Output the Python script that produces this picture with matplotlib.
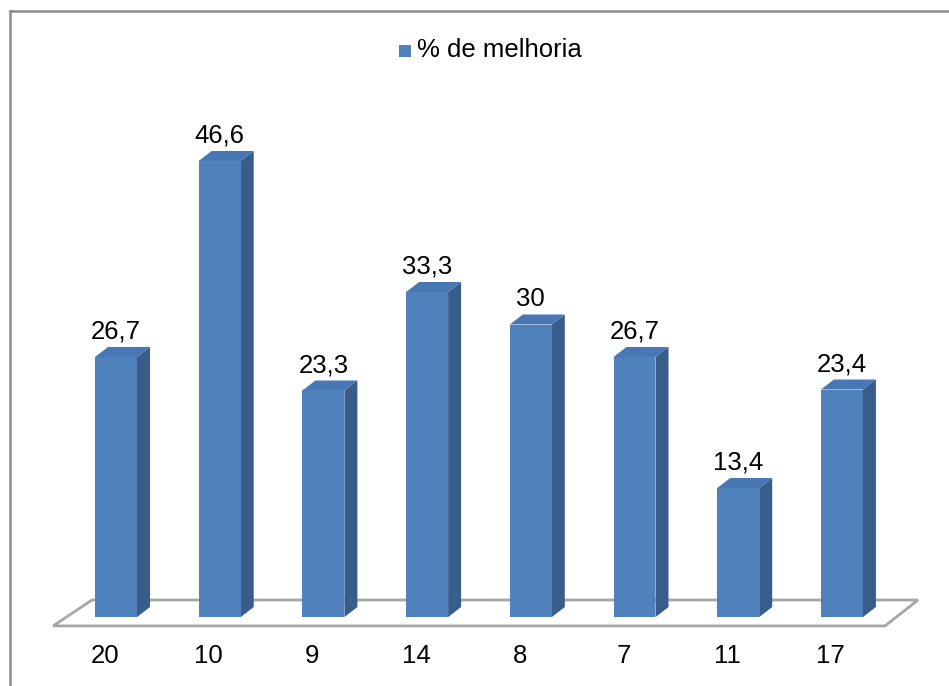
import matplotlib
matplotlib.use("Agg")
import matplotlib.pyplot as plt
from matplotlib.patches import Polygon, Rectangle
from matplotlib.lines import Line2D

categories = ["20", "10", "9", "14", "8", "7", "11", "17"]
values = [26.7, 46.6, 23.3, 33.3, 30, 26.7, 13.4, 23.4]
value_labels = ["26,7", "46,6", "23,3", "33,3", "30", "26,7", "13,4", "23,4"]
series_name = "% de melhoria"

front = "#4F81BD"
side = "#385D8A"
top = "#4878B4"

plt.rcParams["font.family"] = ["Liberation Sans", "DejaVu Sans"]

fig = plt.figure(figsize=(9.49, 6.86), dpi=100)
ax = fig.add_axes([0, 0, 1, 1])
# map: x pixel = 116 + 103.7 * i ; y pixel from top = 620 - 9.85 * v
ax.set_xlim(-116 / 103.7, (949 - 116) / 103.7)
ax.set_ylim(-66 / 9.85, 620 / 9.85)
ax.axis("off")

bw = 0.405          # front face width
dx = 13 / 103.7     # depth offset in x
dy = 10 / 9.85      # depth offset in y

# floor (parallelogram)
n = len(categories)
floor = Polygon([(-0.607, -0.6), (n - 0.584, -0.6), (n - 0.266, 2.03), (-0.231, 2.03)],
                closed=True, facecolor="white", edgecolor="#A6A6A6", lw=2, zorder=1)
ax.add_patch(floor)

for i, v in enumerate(values):
    x0 = i - bw / 2
    x1 = i + bw / 2
    y0 = 0.3
    ax.add_patch(Polygon([(x1, y0), (x1 + dx, y0 + dy), (x1 + dx, v + dy), (x1, v)],
                         closed=True, facecolor=side, edgecolor="none", zorder=3))
    ax.add_patch(Polygon([(x0, v), (x0 + dx, v + dy), (x1 + dx, v + dy), (x1, v)],
                         closed=True, facecolor=top, edgecolor="none", zorder=3))
    ax.add_patch(Rectangle((x0, y0), bw, v - y0, facecolor=front, edgecolor="none", zorder=4))
    ax.annotate(value_labels[i], (i, v), xytext=(0, 13), textcoords="offset points",
                ha="center", va="baseline", fontsize=18.5, zorder=5)
    ax.annotate(categories[i], (i, 0), xytext=(-8, -31), textcoords="offset points",
                ha="center", va="baseline", fontsize=18.5, zorder=5)

# legend
fig.patches.append(Rectangle((399 / 949, 1 - 57 / 686), 12 / 949, 12 / 686,
                             transform=fig.transFigure, facecolor=front, edgecolor="none"))
fig.text(417 / 949, 1 - 50 / 686, series_name, ha="left", va="center", fontsize=18.5)

# chart border (left and top visible)
fig.lines.append(Line2D([9.5 / 949, 9.5 / 949], [0, 1 - 10.5 / 686], transform=fig.transFigure,
                        color="#8C8C8C", lw=1.8))
fig.lines.append(Line2D([9.5 / 949, 1], [1 - 10.5 / 686, 1 - 10.5 / 686], transform=fig.transFigure,
                        color="#8C8C8C", lw=1.8))

fig.savefig("out.png", dpi=100)
